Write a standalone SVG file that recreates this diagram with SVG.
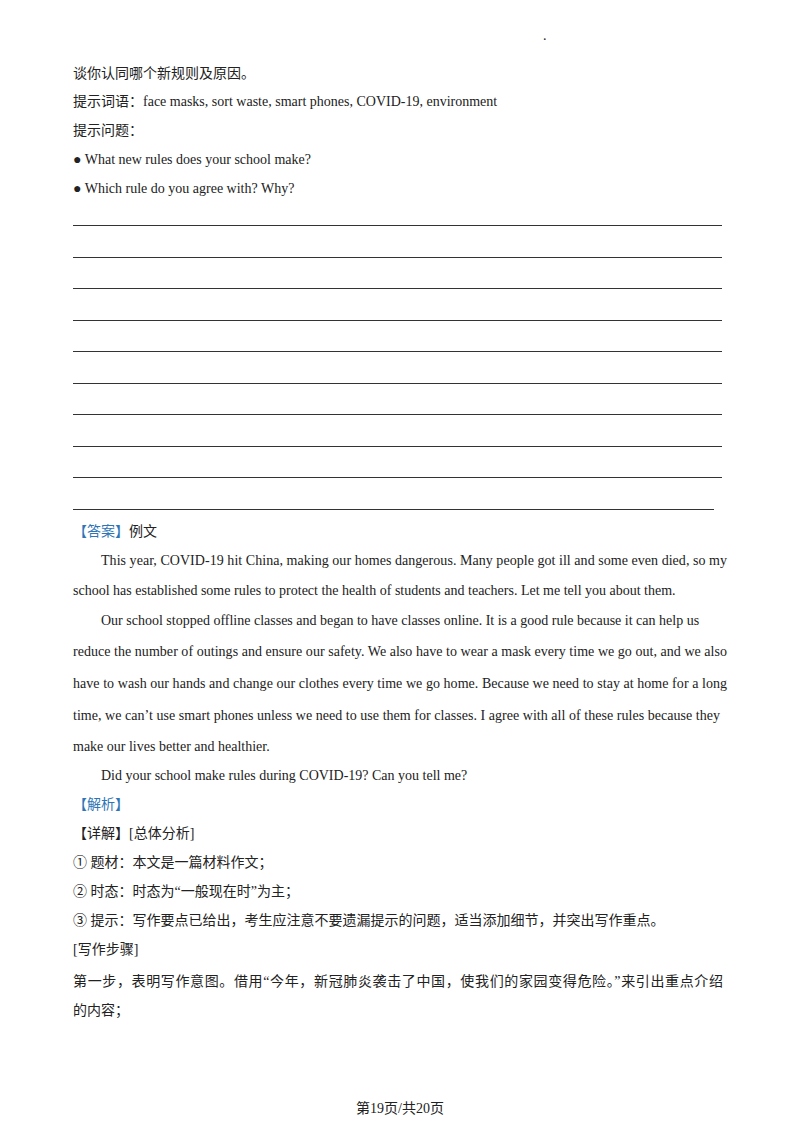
<svg xmlns="http://www.w3.org/2000/svg" width="800" height="1132" viewBox="0 0 800 1132">
<style>
text{font-family:"Liberation Serif","Noto Sans CJK SC",serif;font-size:14px;fill:#222}
.b{fill:#2e75b6}
.r{stroke:#333;stroke-width:1}
</style>
<rect width="800" height="1132" fill="#fff"/>
<text x="543" y="40" font-size="8">.</text>
<text x="73" y="78">谈你认同哪个新规则及原因。</text>
<text x="73" y="106">提示词语：face masks, sort waste, smart phones, COVID-19, environment</text>
<text x="73" y="135">提示问题：</text>
<text x="73" y="164">● What new rules does your school make?</text>
<text x="73" y="193">● Which rule do you agree with? Why?</text>
<g class="r">
<line x1="73" y1="225.5" x2="722" y2="225.5"/>
<line x1="73" y1="257.5" x2="722" y2="257.5"/>
<line x1="73" y1="288.5" x2="722" y2="288.5"/>
<line x1="73" y1="320.5" x2="722" y2="320.5"/>
<line x1="73" y1="351.5" x2="722" y2="351.5"/>
<line x1="73" y1="383.5" x2="722" y2="383.5"/>
<line x1="73" y1="414.5" x2="722" y2="414.5"/>
<line x1="73" y1="446.5" x2="722" y2="446.5"/>
<line x1="73" y1="477.5" x2="722" y2="477.5"/>
<line x1="73" y1="509.5" x2="714" y2="509.5"/>
</g>
<text x="73" y="536"><tspan class="b">【答案】</tspan>例文</text>
<text x="101" y="565" textLength="626" lengthAdjust="spacing">This year, COVID-19 hit China, making our homes dangerous. Many people got ill and some even died, so my</text>
<text x="73" y="595">school has established some rules to protect the health of students and teachers. Let me tell you about them.</text>
<text x="101" y="625">Our school stopped offline classes and began to have classes online. It is a good rule because it can help us</text>
<text x="73" y="656" textLength="654" lengthAdjust="spacing">reduce the number of outings and ensure our safety. We also have to wear a mask every time we go out, and we also</text>
<text x="73" y="688" textLength="654" lengthAdjust="spacing">have to wash our hands and change our clothes every time we go home. Because we need to stay at home for a long</text>
<text x="73" y="720" textLength="647" lengthAdjust="spacing">time, we can’t use smart phones unless we need to use them for classes. I agree with all of these rules because they</text>
<text x="73" y="751">make our lives better and healthier.</text>
<text x="101" y="780">Did your school make rules during COVID-19? Can you tell me?</text>
<text x="73" y="809" class="b">【解析】</text>
<text x="73" y="838">【详解】[总体分析]</text>
<text x="73" y="867">① 题材：本文是一篇材料作文；</text>
<text x="73" y="896">② 时态：时态为“一般现在时”为主；</text>
<text x="73" y="925">③ 提示：写作要点已给出，考生应注意不要遗漏提示的问题，适当添加细节，并突出写作重点。</text>
<text x="73" y="954">[写作步骤]</text>
<text x="73" y="986" textLength="650" lengthAdjust="spacing">第一步，表明写作意图。借用“今年，新冠肺炎袭击了中国，使我们的家园变得危险。”来引出重点介绍</text>
<text x="73" y="1015">的内容；</text>
<text x="400" y="1113" text-anchor="middle">第19页/共20页</text>
</svg>
